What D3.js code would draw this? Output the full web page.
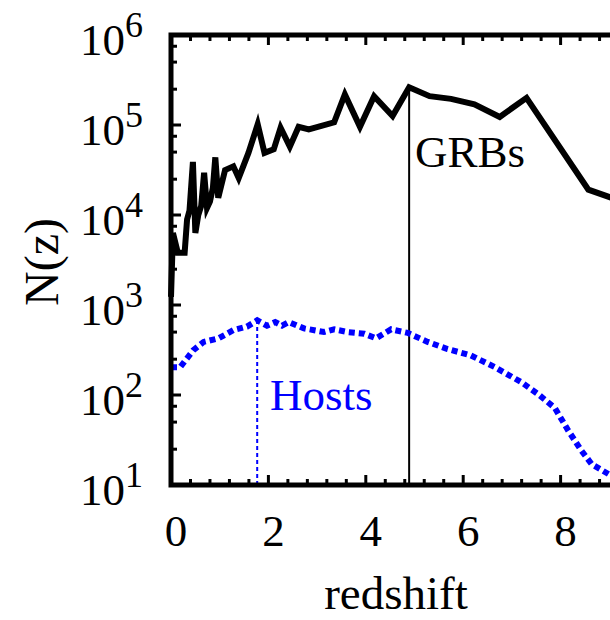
<!DOCTYPE html>
<html><head><meta charset="utf-8">
<script src="https://cdn.jsdelivr.net/npm/d3@7"></script>
<style>html,body{margin:0;padding:0;background:#fff;overflow:hidden}svg{display:block}</style>
</head><body>
<svg id="c" width="610" height="620"></svg>
<script>
const grbZ = [0, 0.04, 0.14, 0.28, 0.33, 0.38, 0.45, 0.50, 0.56, 0.62, 0.68, 0.74, 0.80, 0.86, 0.91, 0.97, 1.11, 1.28, 1.39, 1.59, 1.78, 1.92, 2.11, 2.25, 2.44, 2.62, 2.83, 3.35, 3.57, 3.88, 4.17, 4.55, 4.89, 5.31, 5.75, 6.23, 6.75, 7.30, 8.57, 9.05, 9.5];
const grbN = [1230, 6310, 3800, 3800, 8910, 11200, 38900, 6310, 10000, 12600, 29500, 12000, 14100, 20000, 43700, 15500, 31600, 34700, 25700, 49000, 102000, 49000, 53700, 93300, 57500, 95500, 89100, 107000, 219000, 95500, 209000, 126000, 263000, 209000, 195000, 170000, 123000, 200000, 19100, 15500, 13200];
const hostZ = [0, 0.19, 0.46, 0.67, 0.98, 1.28, 1.56, 1.77, 1.97, 2.14, 2.28, 2.42, 2.73, 3.14, 3.35, 3.62, 3.97, 4.21, 4.52, 4.86, 5.27, 5.68, 6.16, 6.65, 7.20, 7.54, 7.88, 8.16, 8.43, 8.64, 9.05, 9.5];
const hostN = [204, 204, 316, 389, 427, 525, 575, 676, 589, 646, 589, 646, 550, 501, 537, 501, 479, 427, 537, 490, 389, 324, 275, 204, 138, 102, 72, 40, 24, 17, 12.6, 10.5];
const grbMark = {z: 4.89, n: 263000, label: "GRBs"};
const hostMark = {z: 1.77, n: 676, label: "Hosts"};
const xTicks = [0, 2, 4, 6, 8, 10];
const xTickLabels = ["0", "2", "4", "6", "8"];
const yExps = [1, 2, 3, 4, 5, 6];
const xLabel = "redshift";
const yLabel = "N(z)";

const svg = d3.select("#c");
const font = "'Liberation Serif','Times New Roman',serif";
const x = d3.scaleLinear().domain([0, 10]).range([171, 658]);
const y = d3.scaleLog().domain([10, 1e6]).range([485, 35]);
const X0 = x(0), X1 = x(10), Y0 = y(10), Y1 = y(1e6);

svg.append("defs").append("clipPath").attr("id", "clip")
  .append("rect").attr("x", X0 - 3).attr("y", Y1).attr("width", X1 - X0 + 3).attr("height", Y0 - Y1);

// minor ticks
const xMinor = d3.range(0, 10.001, 0.4).filter(v => Math.abs(v / 2 - Math.round(v / 2)) > 1e-6);
const yMinor = [];
yExps.slice(0, -1).forEach(e => [2.5, 5, 7.5].forEach(m => yMinor.push(m * Math.pow(10, e))));
const tk = svg.append("g").attr("stroke", "#000").attr("stroke-width", 3);
xMinor.forEach(v => {
  tk.append("line").attr("x1", x(v)).attr("x2", x(v)).attr("y1", Y0).attr("y2", Y0 - 6);
  tk.append("line").attr("x1", x(v)).attr("x2", x(v)).attr("y1", Y1).attr("y2", Y1 + 6);
});
xTicks.forEach(v => {
  tk.append("line").attr("x1", x(v)).attr("x2", x(v)).attr("y1", Y0).attr("y2", Y0 - 10);
  tk.append("line").attr("x1", x(v)).attr("x2", x(v)).attr("y1", Y1).attr("y2", Y1 + 10);
});
yMinor.forEach(v => {
  tk.append("line").attr("x1", X0).attr("x2", X0 + 6).attr("y1", y(v)).attr("y2", y(v));
});
yExps.forEach(e => {
  tk.append("line").attr("x1", X0).attr("x2", X0 + 10).attr("y1", y(Math.pow(10, e))).attr("y2", y(Math.pow(10, e)));
});

// marker lines
svg.append("line").attr("x1", x(grbMark.z)).attr("x2", x(grbMark.z))
  .attr("y1", Y0).attr("y2", y(grbMark.n)).attr("stroke", "#000").attr("stroke-width", 2);
svg.append("line").attr("x1", x(hostMark.z)).attr("x2", x(hostMark.z))
  .attr("y1", Y0).attr("y2", y(hostMark.n)).attr("stroke", "#0000ff").attr("stroke-width", 2)
  .attr("stroke-dasharray", "4,3");

const line = d3.line().x(d => x(d[0])).y(d => y(d[1]));
const plot = svg.append("g").attr("clip-path", "url(#clip)");
plot.append("path").datum(hostZ.map((z, i) => [z, hostN[i]])).attr("d", line)
  .attr("fill", "none").attr("stroke", "#0000ff").attr("stroke-width", 6)
  .attr("stroke-dasharray", "6,4").attr("stroke-linejoin", "miter");
plot.append("path").datum(grbZ.map((z, i) => [z, grbN[i]])).attr("d", line)
  .attr("fill", "none").attr("stroke", "#000").attr("stroke-width", 6)
  .attr("stroke-linejoin", "miter").attr("stroke-miterlimit", 4);

// frame
const fr = svg.append("g").attr("stroke", "#000").attr("stroke-width", 5).attr("fill", "none");
fr.append("rect").attr("x", X0).attr("y", Y1).attr("width", X1 - X0).attr("height", Y0 - Y1);

// labels
svg.append("text").attr("x", 415).attr("y", 167).attr("font-family", font).attr("font-size", 45)
  .attr("fill", "#000").text(grbMark.label);
svg.append("text").attr("x", 270).attr("y", 410).attr("font-family", font).attr("font-size", 45)
  .attr("fill", "#0000ff").text(hostMark.label);

// tick labels
xTickLabels.forEach(s => {
  svg.append("text").attr("x", x(+s) + 5).attr("y", 546).attr("text-anchor", "middle")
    .attr("font-family", font).attr("font-size", 45).text(s);
});
yExps.forEach(e => {
  const t = svg.append("text").attr("x", 143).attr("y", y(Math.pow(10, e)) + 20)
    .attr("text-anchor", "end").attr("font-family", font).attr("font-size", 45);
  t.append("tspan").text("10");
  t.append("tspan").attr("dy", -18).attr("font-size", 36).text(e);
});

svg.append("text").attr("x", 396).attr("y", 609).attr("text-anchor", "middle")
  .attr("font-family", font).attr("font-size", 47).text(xLabel);
svg.append("text").attr("transform", "translate(58,262) rotate(-90)").attr("text-anchor", "middle")
  .attr("font-family", font).attr("font-size", 48).text(yLabel);
</script>
</body></html>
